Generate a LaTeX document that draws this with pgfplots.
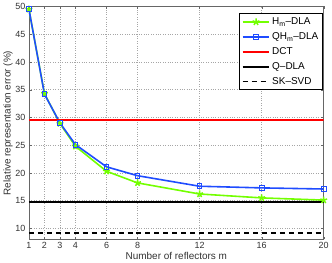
\documentclass[border=0pt]{standalone}
\usepackage{pgfplots}
\pgfplotsset{compat=1.18}
\usepackage{fontspec}
\setmainfont{Liberation Sans}
\usetikzlibrary{plotmarks}
\definecolor{mgreen}{rgb}{0.45,1,0}
\definecolor{mblue}{rgb}{0.12,0.3,1}
\begin{document}
\begin{tikzpicture}
\begin{axis}[
  scale only axis,
  width=296pt, height=234pt,
  xmin=1, xmax=20, ymin=8, ymax=50,
  xtick={1,2,3,4,6,8,12,16,20},
  ytick={10,15,20,25,30,35,40,45,50},
  /pgf/number format/assume math mode=true,
  tick label style={font=\fontsize{9}{10}\selectfont, text=black!80},
  label style={font=\fontsize{10}{12}\selectfont, text=black!80},
  xlabel={Number of reflectors m},
  ylabel={Relative representation error (\%)},
  xlabel style={yshift=3pt},
  ylabel style={yshift=-4pt},
  grid=major,
  major grid style={dotted, gray!70, line width=0.5pt},
  tick align=inside,
  major tick length=3pt,
  axis line style={black!60, line width=0.8pt},
  xtick pos=both, ytick pos=both,
  tick style={black!60},
  xticklabel style={yshift=1pt},
  legend style={at={(1,1)}, anchor=north east, xshift=-1pt, yshift=-7pt,
    font=\fontsize{10}{12}\selectfont, draw=black, line width=0.7pt,
    row sep=2.5pt, inner xsep=2pt, inner ysep=2pt},
  legend cell align=left,
]
\addplot[mgreen, line width=1.6pt, mark=star, mark size=3.6pt, mark options={line width=1.5pt, solid},
  legend image code/.code={\draw[mgreen,line width=1.7pt] (0cm,0cm) -- (0.94cm,0cm);
    \draw[mgreen,line width=1.5pt] plot[mark=star, mark size=3.6pt] coordinates {(0.47cm,0cm)};}]
  coordinates {(1,49.5) (2,34.3) (3,28.9) (4,24.8) (6,20.3) (8,18.2) (12,16.2) (16,15.5) (20,15.1)};
\addlegendentry{H\textsubscript{m}--DLA}
\addplot[mblue, line width=1.6pt, mark=square, mark size=2.4pt, mark options={line width=1pt, solid},
  legend image code/.code={\draw[mblue,line width=1.7pt] (0cm,0cm) -- (0.94cm,0cm);
    \draw[mblue,line width=1pt] plot[mark=square, mark size=2.4pt] coordinates {(0.47cm,0cm)};}]
  coordinates {(1,49.5) (2,34.2) (3,29.0) (4,25.1) (6,21.1) (8,19.5) (12,17.6) (16,17.3) (20,17.1)};
\addlegendentry{QH\textsubscript{m}--DLA}
\addplot[red, line width=1.8pt,
  legend image code/.code={\draw[red,line width=1.8pt] (0cm,0cm) -- (0.94cm,0cm);}]
  coordinates {(1,29.6) (20,29.6)};
\addlegendentry{DCT}
\addplot[black, line width=1.8pt,
  legend image code/.code={\draw[black,line width=1.8pt] (0cm,0cm) -- (0.94cm,0cm);}]
  coordinates {(1,14.8) (20,14.8)};
\addlegendentry{Q--DLA}
\addplot[black, line width=1.6pt, dash pattern=on 5pt off 4pt,
  legend image code/.code={\draw[black,line width=1.6pt,dash pattern=on 5pt off 4pt] (0cm,0cm) -- (0.94cm,0cm);}]
  coordinates {(1,9.2) (20,9.2)};
\addlegendentry{SK--SVD}
\end{axis}
\end{tikzpicture}
\end{document}
